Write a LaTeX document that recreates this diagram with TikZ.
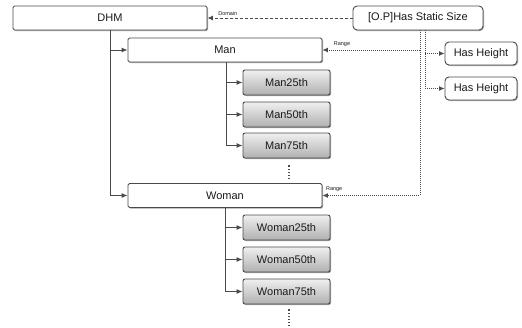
\documentclass[tikz,border=0pt]{standalone}
\usepackage{fontspec}
\setmainfont{Liberation Sans}
\usetikzlibrary{arrows.meta,shadows}
\definecolor{edge}{HTML}{4A4A4A}
\definecolor{txt}{HTML}{1A1A1A}
\tikzset{
  base/.style={draw=edge, line width=0.9pt, text=txt, font=\fontsize{11}{13}\selectfont,
    inner sep=0pt, minimum height=24pt,
    drop shadow={shadow xshift=1pt, shadow yshift=-1pt, opacity=0.35, fill=black}},
  classbox/.style={base, fill=white, rounded corners=1.5pt, minimum width=194pt},
  instbox/.style={base, top color=gray!12, bottom color=gray!62, rounded corners=2pt,
    minimum width=87pt, minimum height=25pt},
  propbox/.style={base, fill=white, rounded corners=4pt},
  tree/.style={draw=edge, line width=0.9pt, -{Latex[length=6pt,width=5pt]}},
  rel/.style={draw=edge, line width=1pt, densely dotted, -{Latex[length=5.5pt,width=5pt]}},
  dom/.style={draw=edge, line width=0.8pt, dashed, dash pattern=on 3pt off 2pt, -{Latex[length=5.5pt,width=5pt]}},
  tag/.style={font=\fontsize{5.5}{6}\selectfont, text=txt, inner sep=0pt},
  more/.style={draw=edge, line width=1.2pt, dotted}
}
\begin{document}
\begin{tikzpicture}[x=1pt,y=-1pt]
\useasboundingbox (0,0) rectangle (522,327);
\node[classbox] (DHM) at (110,18) {DHM};
\node[classbox] (Man) at (225,50) {Man};
\node[classbox] (Woman) at (225,195.5) {Woman};
\node[instbox] (M25) at (286.5,82.5) {Man25th};
\node[instbox] (M50) at (286.5,114.5) {Man50th};
\node[instbox] (M75) at (286.5,145.5) {Man75th};
\node[instbox] (W25) at (286.5,227.5) {Woman25th};
\node[instbox] (W50) at (286.5,259.5) {Woman50th};
\node[instbox] (W75) at (286.5,291.5) {Woman75th};
\node[propbox, minimum width=130pt, minimum height=24pt] (OP) at (418,18) {[O.P]Has Static Size};
\node[propbox, minimum width=72pt, minimum height=23pt] (HH1) at (481,53.5) {Has Height};
\node[propbox, minimum width=72pt, minimum height=23pt] (HH2) at (481,88.5) {Has Height};
% tree
\draw[tree] (DHM.south) |- (Woman.west);
\draw[tree] (DHM.south |- Man.west) -- (Man.west);
\coordinate (mv) at ([xshift=1pt]Man.south);
\draw[tree] (mv) |- (M75.west);
\draw[tree] (mv |- M25.west) -- (M25.west);
\draw[tree] (mv |- M50.west) -- (M50.west);
\coordinate (wv) at (Woman.south);
\draw[tree] (wv) |- (W75.west);
\draw[tree] (wv |- W25.west) -- (W25.west);
\draw[tree] (wv |- W50.west) -- (W50.west);
% continuation dots
\draw[more] ([xshift=2.5pt,yshift=-7pt]M75.south) -- ++(0,14);
\draw[more] ([xshift=2.5pt,yshift=-5pt]W75.south) -- ++(0,17);
% domain
\draw[dom] (OP.west) -- (DHM.east) node[tag, pos=0.86, above=2.5pt] {Domain};
% ranges
\coordinate (v1) at ([xshift=2pt]OP.south);
\coordinate (v2) at ([xshift=7pt]OP.south);
\draw[rel] (v1) |- (Woman.east) node[tag, pos=0.94, above=3pt] {Range};
\draw[rel] (v1 |- Man.east) -- (Man.east) node[tag, pos=0.8, above=3pt] {Range};
\draw[rel] (v2) |- (HH2.west);
\draw[rel] (v2 |- HH1.west) -- (HH1.west);
\end{tikzpicture}
\end{document}
